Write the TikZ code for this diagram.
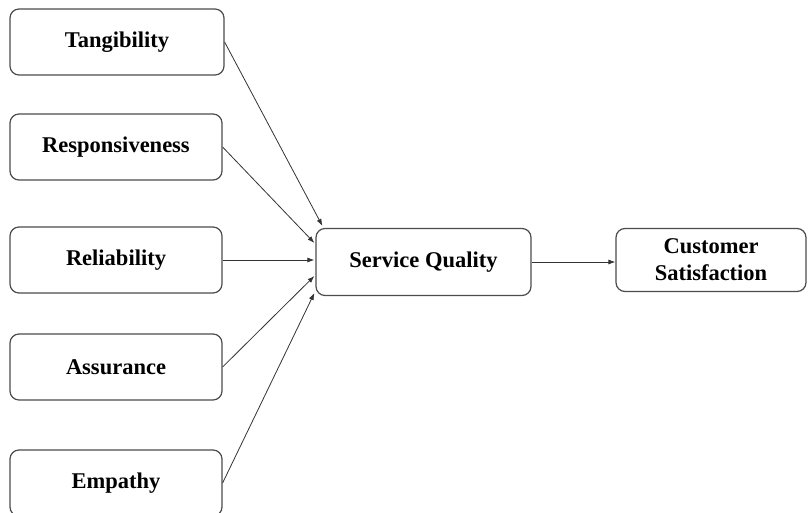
\documentclass[tikz,border=0pt]{standalone}
\usepackage{fontspec}
\setmainfont{Liberation Serif}
\usetikzlibrary{arrows.meta}
\begin{document}
\begin{tikzpicture}[x=1pt,y=-1pt,
  box/.style={draw=black!70,line width=1.2pt,rounded corners=9pt,fill=white,
    font=\fontsize{22.5}{26}\selectfont\bfseries,align=center,inner sep=0pt},
  conn/.style={draw=black!80,line width=0.8pt,-{Latex[length=7pt,width=5pt]}}]
\useasboundingbox (0,0) rectangle (809,513);
\clip (0,0) rectangle (809,513);
\node[box,minimum width=214pt,minimum height=66pt] (tan) at (117,42) {Tangibility};
\node[box,minimum width=212pt,minimum height=66pt] (res) at (116,147) {Responsiveness};
\node[box,minimum width=212pt,minimum height=66pt] (rel) at (116,260) {Reliability};
\node[box,minimum width=212pt,minimum height=66pt] (ass) at (116,367) {Assurance};
\node[box,minimum width=212pt,minimum height=66pt] (emp) at (116,483) {Empathy};
\node[box,minimum width=215pt,minimum height=67pt] (sq) at (423.5,262) {Service Quality};
\node[box,minimum width=190pt,minimum height=63pt] (cs) at (711,260) {Customer\\[1pt]Satisfaction};
\draw[conn] (tan.east) -- ([xshift=7pt,yshift=2pt]sq.north west);
\draw[conn] (res.east) -- ([xshift=-1pt,yshift=19pt]sq.west);
\draw[conn] (rel.east) -- ([xshift=-1pt]rel.east -| sq.west);
\draw[conn] (ass.east) -- ([xshift=-1pt,yshift=-14pt]sq.west);
\draw[conn] (emp.east) -- ([xshift=-1pt,yshift=-31pt]sq.west);
\draw[conn] (sq.east) -- (sq.east -| cs.west);
\end{tikzpicture}
\end{document}
